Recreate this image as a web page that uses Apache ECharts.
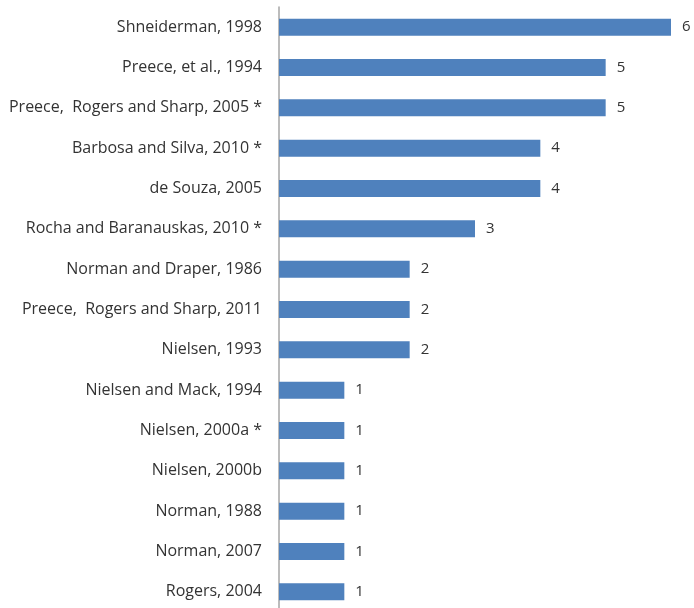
<!DOCTYPE html>
<html>
<head>
<meta charset="utf-8">
<style>
  html, body { margin: 0; padding: 0; background: #fff; }
  #chart { width: 694px; height: 608px; }
</style>
<script src="https://cdn.jsdelivr.net/npm/echarts@6/dist/echarts.min.js"></script>
</head>
<body>
<div id="chart"></div>
<script>
// Citation counts per reference, listed top to bottom
const references = [
  'Shneiderman, 1998',
  'Preece, et al., 1994',
  'Preece,  Rogers and Sharp, 2005 *',
  'Barbosa and Silva, 2010 *',
  'de Souza, 2005',
  'Rocha and Baranauskas, 2010 *',
  'Norman and Draper, 1986',
  'Preece,  Rogers and Sharp, 2011',
  'Nielsen, 1993',
  'Nielsen and Mack, 1994',
  'Nielsen, 2000a *',
  'Nielsen, 2000b',
  'Norman, 1988',
  'Norman, 2007',
  'Rogers, 2004'
];
const counts = [6, 5, 5, 4, 4, 3, 2, 2, 2, 1, 1, 1, 1, 1, 1];

const chart = echarts.init(document.getElementById('chart'));
chart.setOption({
  animation: false,
  grid: {
    left: 279, right: 23, top: 7, height: 605,
    containLabel: false,
    outerBoundsMode: 'none'
  },
  xAxis: {
    type: 'value',
    min: 0,
    max: 6,
    show: false
  },
  yAxis: {
    type: 'category',
    inverse: true,
    data: references,
    axisLine: { show: true, lineStyle: { color: '#A6A6A6', width: 1.5 } },
    axisTick: { show: false },
    axisLabel: {
      margin: 17,
      color: '#333333',
      fontFamily: 'Open Sans',
      fontSize: 16
    }
  },
  series: [{
    type: 'bar',
    data: counts,
    barWidth: 17,
    itemStyle: { color: '#4F81BD' },
    label: {
      show: true,
      position: 'right',
      distance: 11,
      color: '#333333',
      fontFamily: 'Open Sans',
      fontSize: 15
    }
  }]
});
</script>
</body>
</html>
